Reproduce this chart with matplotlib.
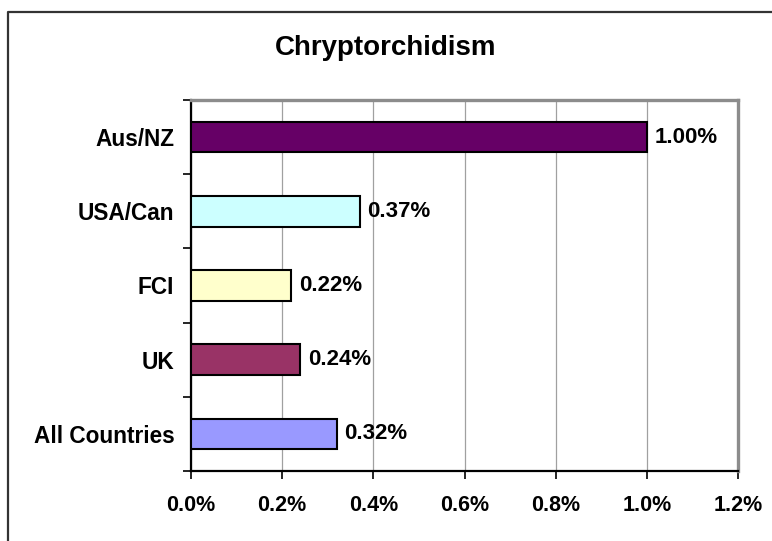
import matplotlib.pyplot as plt
from matplotlib.lines import Line2D
from matplotlib.ticker import FixedLocator, NullFormatter

# data (top to bottom)
countries = ["Aus/NZ", "USA/Can", "FCI", "UK", "All Countries"]
rates = [1.00, 0.37, 0.22, 0.24, 0.32]
bar_colors = ["#660066", "#CCFFFF", "#FFFFCC", "#993366", "#9999FF"]
x_ticks = [0.0, 0.2, 0.4, 0.6, 0.8, 1.0, 1.2]

plt.rcParams['font.family'] = ['Liberation Sans', 'DejaVu Sans']

fig = plt.figure(figsize=(7.72, 5.41), dpi=100)
ax = fig.add_axes([191/772, 1 - 471/541, (738-191)/772, (471-100)/541])

# outer chart border: only left and top edges fall inside the picture
bx, by = 7.5/772, 1 - 11.5/541
fig.lines.append(Line2D([bx, bx, 1.0], [0.0, by, by], transform=fig.transFigure,
                        color="#333333", linewidth=1.6))

ypos = list(range(len(countries)))[::-1]
ax.barh(ypos, rates, height=0.41, color=bar_colors, edgecolor="black",
        linewidth=1.5, zorder=3)

for y, v in zip(ypos, rates):
    ax.text(v + 0.017, y, "%.2f%%" % v, va="center", ha="left",
            fontsize=16, fontweight="bold", zorder=4)

ax.set_xlim(0, 1.2)
ax.set_ylim(-0.5, len(countries) - 0.5)
ax.set_xticks(x_ticks)
ax.set_xticklabels(["%.1f%%" % t for t in x_ticks], fontsize=15.5, fontweight="bold")
ax.set_yticks(ypos)
ax.set_yticklabels(countries, fontsize=16.3, fontweight="bold")
ax.tick_params(axis="y", which="major", length=0, pad=12)
ax.yaxis.set_minor_locator(FixedLocator([i - 0.5 for i in range(len(countries) + 1)]))
ax.yaxis.set_minor_formatter(NullFormatter())
ax.tick_params(axis="y", which="minor", length=6, width=1.2, color="black")
ax.tick_params(axis="x", length=6, width=1.2, pad=11)

ax.grid(axis="x", color="#A0A0A0", linewidth=0.9, zorder=0)
ax.set_axisbelow(True)

ax.spines["left"].set_color("black")
ax.spines["left"].set_linewidth(1.6)
ax.spines["bottom"].set_color("black")
ax.spines["bottom"].set_linewidth(1.6)
ax.spines["top"].set_color("#8C8C8C")
ax.spines["top"].set_linewidth(2.4)
ax.spines["right"].set_color("#8C8C8C")
ax.spines["right"].set_linewidth(2.4)

fig.text(386/772, 1 - 48/541, "Chryptorchidism", ha="center", va="center",
         fontsize=20, fontweight="bold")

fig.savefig("out.png", dpi=100)
